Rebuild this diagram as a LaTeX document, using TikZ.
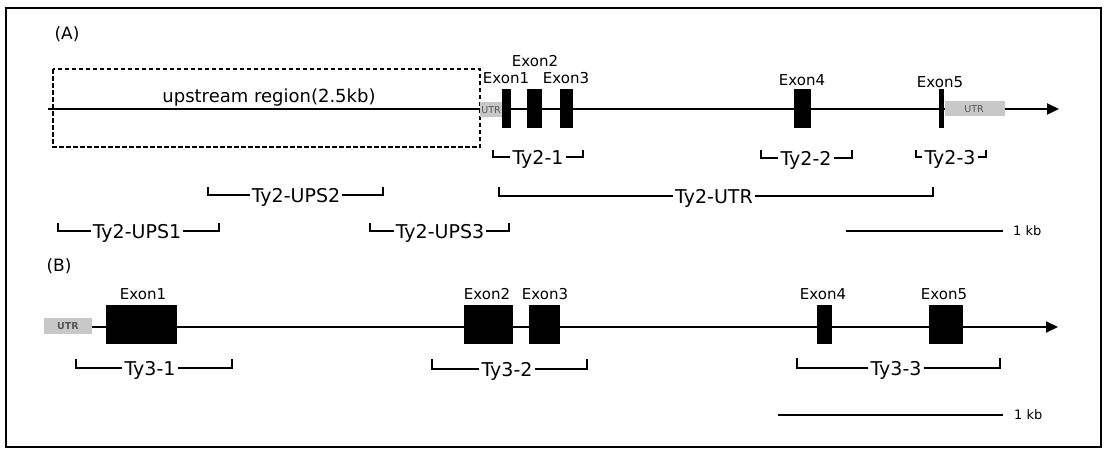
\documentclass[tikz,border=0pt]{standalone}
\usepackage{fontspec}
\setmainfont{DejaVu Sans}
\usetikzlibrary{arrows.meta}

\definecolor{utrgray}{RGB}{200,200,200}
\definecolor{utrtext}{RGB}{85,85,85}

\tikzset{
  gene/.style={line width=1.8pt, -{Triangle[length=12pt,width=11pt]}},
  brk/.style={line width=1.2pt},
  lbl/.style={font=\fontsize{19}{22}\selectfont, inner sep=2pt, text depth=0pt},
  exonlbl/.style={font=\fontsize{15}{17}\selectfont, inner sep=0pt, text depth=0pt},
  utrlbl/.style={font=\fontsize{9.5}{10}\selectfont, text=utrtext, inner sep=0pt},
  kblbl/.style={font=\fontsize{13}{15}\selectfont, anchor=west, inner sep=0pt},
}

\begin{document}
\begin{tikzpicture}[x=1pt, y=-1pt]
\useasboundingbox (0,0) rectangle (1107,452);
\draw[line width=1.3pt] (6,8) rectangle (1101,447);

% (A) Ty2
\node[font=\fontsize{17}{20}\selectfont] (panA) at (67,34) {(A)};
\coordinate (lineA0) at (48,109);
\coordinate (lineA1) at (1059,109);
\draw[gene] (lineA0) -- (lineA1);
\draw[line width=1.2pt, dash pattern=on 4.5pt off 2.5pt] (53,69) rectangle (480,147);
\node[lbl, font=\fontsize{18}{20}\selectfont] (upstr) at (269,96) {upstream region(2.5kb)};

\fill[utrgray] (480,102) rectangle (502,117);
\node[utrlbl] (utrA1) at (491,110) {UTR};
\fill[utrgray] (945,101) rectangle (1005,116);
\node[utrlbl] (utrA2) at (974,109) {UTR};

\foreach \xa/\xb in {502/511, 527/542, 560/573, 794/811, 939/944}
  \fill (\xa,89) rectangle (\xb,128);

\foreach \nm/\x/\y/\t in {exA1/506/78/Exon1, exA2/535/61/Exon2, exA3/566/78/Exon3, exA4/802/80/Exon4, exA5/940/82/Exon5}
  \node[exonlbl] (\nm) at (\x,\y) {\t};

\foreach \nm/\cx/\cy/\l/\r/\tk/\txt in {
    ty21/538/157/493/583/7/Ty2-1, ty22/806/158/761/852/8/Ty2-2, ty23/950/157/916/986/7/Ty2-3,
    tyutr/714/196/499/933/9/Ty2-UTR, ups1/137/231/58/219/8/Ty2-UPS1,
    ups2/296/195/208/383/8/Ty2-UPS2, ups3/440/231/370/509/8/Ty2-UPS3}{
  \node[lbl] (\nm) at (\cx,\cy) {\txt};
  \draw[brk] (\nm.west) -- (\l,\cy) -- ++(0,-\tk);
  \draw[brk] (\nm.east) -- (\r,\cy) -- ++(0,-\tk);
}

\coordinate (sbA0) at (846,231);
\coordinate (sbA1) at (1003,231);
\draw[brk] (sbA0) -- (sbA1);
\node[kblbl] (kbA) at (1013,231) {1 kb};

% (B) Ty3
\node[font=\fontsize{17}{20}\selectfont] (panB) at (59,266) {(B)};
\coordinate (lineB0) at (92,327);
\coordinate (lineB1) at (1058,327);
\draw[gene] (lineB0) -- (lineB1);
\fill[utrgray] (44,318) rectangle (92,334);
\node[utrlbl, font=\fontsize{9.5}{10}\selectfont\bfseries] (utrB) at (68,326) {UTR};

\foreach \xa/\xb in {106/177, 464/513, 529/560, 817/832, 929/963}
  \fill (\xa,305) rectangle (\xb,344);

\foreach \nm/\x/\y/\t in {exB1/143/294/Exon1, exB2/487/294/Exon2, exB3/545/294/Exon3, exB4/823/294/Exon4, exB5/944/294/Exon5}
  \node[exonlbl] (\nm) at (\x,\y) {\t};

\foreach \nm/\cx/\cy/\l/\r/\tk/\txt in {
    ty31/150/368/76/232/9/Ty3-1, ty32/507/369/432/587/10/Ty3-2, ty33/896/368/797/1000/10/Ty3-3}{
  \node[lbl] (\nm) at (\cx,\cy) {\txt};
  \draw[brk] (\nm.west) -- (\l,\cy) -- ++(0,-\tk);
  \draw[brk] (\nm.east) -- (\r,\cy) -- ++(0,-\tk);
}

\coordinate (sbB0) at (778,415);
\coordinate (sbB1) at (1003,415);
\draw[brk] (sbB0) -- (sbB1);
\node[kblbl] (kbB) at (1014,415) {1 kb};
\end{tikzpicture}
\end{document}
